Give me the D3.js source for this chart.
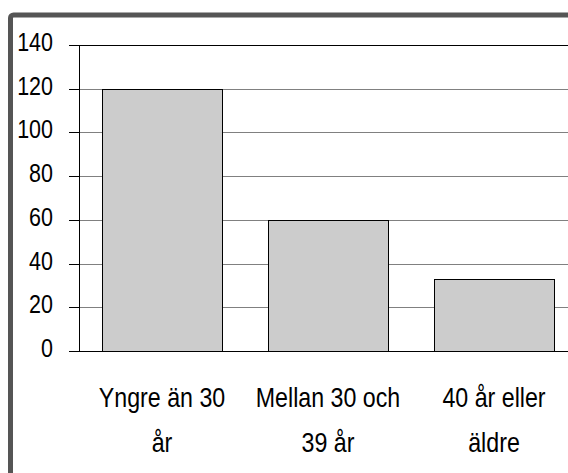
<!DOCTYPE html>
<html>
<head>
<meta charset="utf-8">
<script src="https://cdn.jsdelivr.net/npm/d3@7"></script>
<style>
  body { margin: 0; background: #fff; }
  svg { display: block; }
  text { font-family: "Liberation Sans", Arial, sans-serif; fill: #000; }
</style>
</head>
<body>
<div id="chart"></div>
<script>
// data
var categories = [["Yngre än 30", "år"], ["Mellan 30 och", "39 år"], ["40 år eller", "äldre"]];
var values = [120, 60, 33];
var yTicks = [0, 20, 40, 60, 80, 100, 120, 140];

var width = 568, height = 473;
var squeeze = 0.86; // text in the reference is narrow

var svg = d3.select("#chart").append("svg")
	.attr("width", width)
	.attr("height", height);

// outer frame
svg.append("rect")
	.attr("x", 10.5).attr("y", 15)
	.attr("width", 620).attr("height", 520)
	.attr("rx", 3)
	.attr("fill", "none")
	.attr("stroke", "#555")
	.attr("stroke-width", 5);

var x = d3.scaleBand()
	.domain(d3.range(categories.length))
	.range([79, 577])
	.paddingInner(0.277)
	.paddingOuter(0.1386);

var y = d3.scaleLinear()
	.domain([0, 140])
	.range([351, 45]);

// gridlines
svg.append("g").selectAll("line")
	.data(yTicks.filter(d => d > 0 && d < 140))
	.enter().append("line")
	.attr("x1", 79).attr("x2", width)
	.attr("y1", d => Math.round(y(d)) + 0.5)
	.attr("y2", d => Math.round(y(d)) + 0.5)
	.attr("stroke", "#808080")
	.attr("stroke-width", 1);

// top border of plot
svg.append("line")
	.attr("x1", 69).attr("x2", width)
	.attr("y1", Math.round(y(140)) + 0.5).attr("y2", Math.round(y(140)) + 0.5)
	.attr("stroke", "#000");

// bars
svg.append("g").selectAll("rect")
	.data(values)
	.enter().append("rect")
	.attr("x", (d, i) => Math.round(x(i)) + 0.5)
	.attr("y", d => Math.round(y(d)) + 0.5)
	.attr("width", Math.round(x.bandwidth()))
	.attr("height", d => Math.round(y(0)) - Math.round(y(d)))
	.attr("fill", "#cccccc")
	.attr("stroke", "#000")
	.attr("stroke-width", 1);

// y axis
svg.append("line")
	.attr("x1", 79.5).attr("x2", 79.5)
	.attr("y1", y(140)).attr("y2", y(0))
	.attr("stroke", "#000");
svg.append("line")
	.attr("x1", 69).attr("x2", width)
	.attr("y1", Math.round(y(0)) + 0.5).attr("y2", Math.round(y(0)) + 0.5)
	.attr("stroke", "#000");

var tick = svg.append("g").selectAll("g")
	.data(yTicks)
	.enter().append("g");
tick.append("line")
	.attr("x1", 69).attr("x2", 79)
	.attr("y1", d => Math.round(y(d)) + 0.5)
	.attr("y2", d => Math.round(y(d)) + 0.5)
	.attr("stroke", "#000");
tick.append("text")
	.attr("transform", d => "translate(53," + (y(d) + 6) + ") scale(" + squeeze + ",1)")
	.attr("text-anchor", "end")
	.style("font-size", "25px")
	.text(d => d);

// category labels
var cat = svg.append("g").selectAll("text")
	.data(categories)
	.enter().append("text")
	.attr("text-anchor", "middle")
	.style("font-size", "27px")
	.attr("transform", (d, i) => "translate(" + (x(i) + x.bandwidth() / 2) + ",407) scale(" + squeeze + ",1)");
cat.selectAll("tspan")
	.data(d => d)
	.enter().append("tspan")
	.attr("x", 0)
	.attr("y", (d, i) => i * 45)
	.text(d => d);
</script>
</body>
</html>
